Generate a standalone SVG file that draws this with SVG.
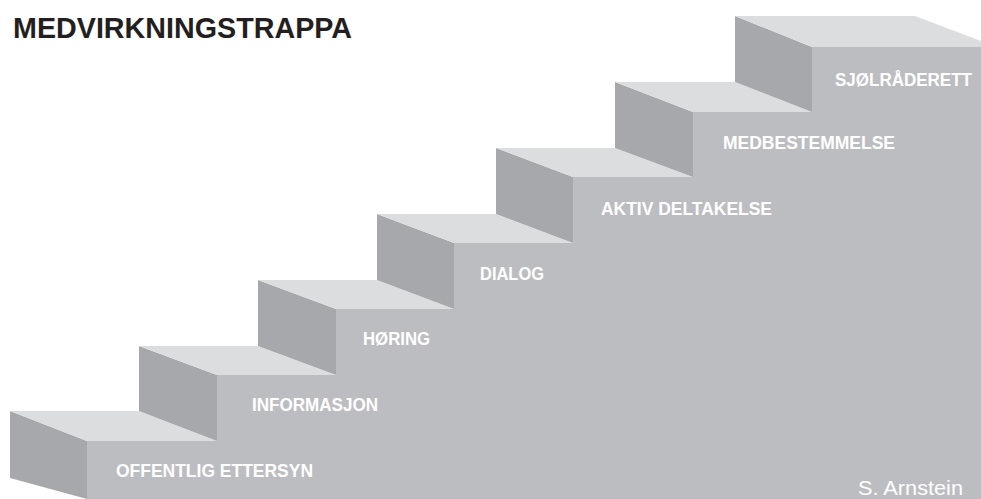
<svg xmlns="http://www.w3.org/2000/svg" width="981" height="499" viewBox="0 0 981 499">
<style>
.front{fill:#bcbdc0}
.side{fill:#a7a8ab}
.top{fill:#dcdddf}
.lbl{font-family:"Liberation Sans","DejaVu Sans",sans-serif;font-weight:bold;font-size:19px;fill:#ffffff}
.title{font-family:"Liberation Sans","DejaVu Sans",sans-serif;font-weight:bold;font-size:30px;fill:#231f20}
.credit{font-family:"Liberation Sans","DejaVu Sans",sans-serif;font-size:20px;fill:#ffffff}
</style>
<rect width="981" height="499" fill="#ffffff"/>
<text class="title" x="13" y="38" textLength="339" lengthAdjust="spacingAndGlyphs">MEDVIRKNINGSTRAPPA</text>
<polygon class="front" points="87,441 217,441 217,375 336,375 336,309 454,309 454,243 573,243 573,177 693,177 693,112 812,112 812,47 981,47 981,499 87,499"/>
<g id="step1">
<polygon class="side" points="10,411 87,441 87,499 10,478"/>
<polygon class="top" points="10,411 139,411 217,441 87,441"/>
<text class="lbl" x="116" y="477" textLength="197" lengthAdjust="spacingAndGlyphs">OFFENTLIG ETTERSYN</text>
</g>
<g id="step2">
<polygon class="side" points="139,346 217,375 217,441 139,411"/>
<polygon class="top" points="139,346 258,346 336,375 217,375"/>
<text class="lbl" x="252" y="411" textLength="126" lengthAdjust="spacingAndGlyphs">INFORMASJON</text>
</g>
<g id="step3">
<polygon class="side" points="258,280 336,309 336,375 258,346"/>
<polygon class="top" points="258,280 377,280 454,309 336,309"/>
<text class="lbl" x="363" y="345" textLength="67" lengthAdjust="spacingAndGlyphs">HØRING</text>
</g>
<g id="step4">
<polygon class="side" points="377,214 454,243 454,309 377,280"/>
<polygon class="top" points="377,214 496,214 573,243 454,243"/>
<text class="lbl" x="480" y="280" textLength="64" lengthAdjust="spacingAndGlyphs">DIALOG</text>
</g>
<g id="step5">
<polygon class="side" points="496,148 573,177 573,243 496,214"/>
<polygon class="top" points="496,148 615,148 693,177 573,177"/>
<text class="lbl" x="601" y="215" textLength="171" lengthAdjust="spacingAndGlyphs">AKTIV DELTAKELSE</text>
</g>
<g id="step6">
<polygon class="side" points="615,82 693,112 693,177 615,148"/>
<polygon class="top" points="615,82 735,82 812,112 693,112"/>
<text class="lbl" x="723" y="149" textLength="172" lengthAdjust="spacingAndGlyphs">MEDBESTEMMELSE</text>
</g>
<g id="step7">
<polygon class="side" points="735,16 812,47 812,112 735,82"/>
<polygon class="top" points="735,16 915,16 981,41 981,47 812,47"/>
<text class="lbl" x="835" y="86" textLength="137" lengthAdjust="spacingAndGlyphs">SJØLRÅDERETT</text>
</g>
<g id="connectors"></g>
<text class="credit" x="858" y="495" textLength="105" lengthAdjust="spacingAndGlyphs">S. Arnstein</text>
</svg>
